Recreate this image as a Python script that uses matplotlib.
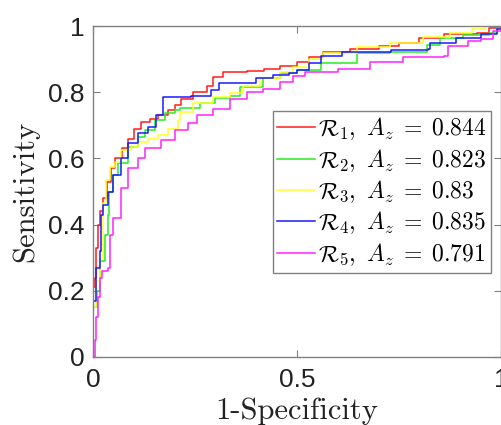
import matplotlib
matplotlib.use("Agg")
import matplotlib.pyplot as plt

plt.rcParams['mathtext.fontset'] = 'cm'
plt.rcParams['font.family'] = ['Liberation Sans', 'DejaVu Sans']

# ROC points (1-specificity, sensitivity)
r1_x = [0, 0, 0.004, 0.008, 0.012, 0.018, 0.025, 0.035, 0.045, 0.055, 0.07, 0.085, 0.1, 0.118, 0.14,
        0.159, 0.184, 0.2, 0.216, 0.245, 0.279, 0.294, 0.319, 0.377, 0.42, 0.458, 0.5, 0.53, 0.564,
        0.63, 0.7, 0.75, 0.8, 0.86, 0.94, 0.97, 1]
r1_y = [0, 0.21, 0.24, 0.33, 0.4, 0.44, 0.48, 0.53, 0.57, 0.6, 0.63, 0.66, 0.69, 0.71, 0.72,
        0.73, 0.745, 0.76, 0.78, 0.8, 0.82, 0.845, 0.86, 0.865, 0.87, 0.88, 0.89, 0.905, 0.92,
        0.93, 0.94, 0.95, 0.965, 0.975, 0.98, 0.995, 1]

r2_x = [0, 0, 0.01, 0.017, 0.03, 0.037, 0.04, 0.05, 0.061, 0.086, 0.11, 0.128, 0.152, 0.176, 0.201,
        0.213, 0.262, 0.3, 0.336, 0.36, 0.417, 0.458, 0.5, 0.56, 0.647, 0.728, 0.818, 0.85, 0.907,
        0.97, 0.99, 1]
r2_y = [0, 0.15, 0.2, 0.29, 0.37, 0.43, 0.5, 0.55, 0.585, 0.634, 0.665, 0.686, 0.716, 0.737, 0.746,
        0.752, 0.767, 0.782, 0.79, 0.816, 0.843, 0.858, 0.867, 0.888, 0.918, 0.921, 0.943, 0.964, 0.973,
        0.98, 0.995, 1]

r3_x = [0, 0, 0.007, 0.017, 0.025, 0.032, 0.042, 0.054, 0.069, 0.093, 0.11, 0.135, 0.159, 0.184,
        0.208, 0.213, 0.245, 0.294, 0.336, 0.368, 0.409, 0.458, 0.49, 0.53, 0.564, 0.647, 0.728,
        0.81, 0.875, 0.93, 0.96, 1]
r3_y = [0, 0.15, 0.23, 0.3, 0.465, 0.535, 0.574, 0.59, 0.625, 0.634, 0.65, 0.66, 0.67, 0.69,
        0.716, 0.74, 0.767, 0.785, 0.797, 0.82, 0.843, 0.861, 0.876, 0.9, 0.918, 0.937, 0.949,
        0.967, 0.979, 0.99, 1.0, 1]

r4_x = [0, 0, 0.007, 0.007, 0.017, 0.02, 0.025, 0.037, 0.05, 0.069, 0.086, 0.11, 0.135, 0.155,
        0.172, 0.172, 0.24, 0.29, 0.31, 0.4, 0.44, 0.48, 0.5, 0.53, 0.56, 0.61, 0.73, 0.82, 0.825,
        0.89, 0.95, 0.99, 1]
r4_y = [0, 0.17, 0.17, 0.27, 0.32, 0.43, 0.46, 0.5, 0.55, 0.6, 0.646, 0.677, 0.695, 0.73,
        0.76, 0.785, 0.79, 0.807, 0.828, 0.843, 0.852, 0.858, 0.867, 0.888, 0.91, 0.92, 0.927, 0.93, 0.95,
        0.965, 0.975, 0.99, 1]

r5_x = [0, 0.004, 0.008, 0.012, 0.016, 0.022, 0.037, 0.042, 0.049, 0.069, 0.086, 0.11, 0.127, 0.167,
        0.201, 0.233, 0.255, 0.294, 0.336, 0.377, 0.417, 0.458, 0.49, 0.52, 0.6, 0.68, 0.76, 0.86,
        0.87, 0.92, 0.95, 0.98, 1]
r5_y = [0, 0.05, 0.12, 0.18, 0.24, 0.26, 0.27, 0.37, 0.42, 0.51, 0.57, 0.6, 0.63, 0.655,
        0.686, 0.707, 0.73, 0.75, 0.78, 0.8, 0.81, 0.83, 0.85, 0.86, 0.87, 0.89, 0.905, 0.91,
        0.94, 0.955, 0.96, 0.985, 1]

labels = [r'$\mathcal{R}_1,\ A_z\;=\;0.844$', r'$\mathcal{R}_2,\ A_z\;=\;0.823$',
          r'$\mathcal{R}_3,\ A_z\;=\;0.83$', r'$\mathcal{R}_4,\ A_z\;=\;0.835$',
          r'$\mathcal{R}_5,\ A_z\;=\;0.791$']
colors = ['#ff1a1a', '#22ee22', '#ffff22', '#1a1aff', '#ff22ff']

fig = plt.figure(figsize=(5.01, 4.25), dpi=100)
ax = fig.add_axes([93 / 501, 68 / 425, 408 / 501, 331 / 425])

curves = [(r1_x, r1_y), (r2_x, r2_y), (r3_x, r3_y), (r4_x, r4_y), (r5_x, r5_y)]
for (xs, ys), c, lab in zip(curves, colors, labels):
    ax.plot(xs, ys, drawstyle='steps-post', color=c, lw=1.1, label=lab)

ax.set_xlim(0, 1)
ax.set_ylim(0, 1)
ax.set_xticks([0, 0.5, 1])
ax.set_xticklabels(['0', '0.5', '1'])
ax.set_yticks([0, 0.2, 0.4, 0.6, 0.8, 1])
ax.set_yticklabels(['0', '0.2', '0.4', '0.6', '0.8', '1'])
ax.tick_params(direction='in', top=True, right=True, length=5, color='#808080',
               labelsize=19, labelcolor='#222222')
ax.tick_params(axis='x', pad=8)
ax.tick_params(axis='y', pad=6)
for s in ax.spines.values():
    s.set_color('#808080')
    s.set_linewidth(1.0)

ax.set_xlabel('1-Specificity', fontfamily='cmr10', fontsize=22, labelpad=4, color='#222222')
ax.set_ylabel('Sensitivity', fontfamily='cmr10', fontsize=22, labelpad=6, color='#222222')

leg = ax.legend(loc='upper right', bbox_to_anchor=(0.975, 0.743), borderaxespad=0,
                fontsize=17, handlelength=1.6, handletextpad=0.1, labelspacing=0.2,
                borderpad=0.2, fancybox=False, framealpha=1)
leg.get_frame().set_edgecolor('#808080')
leg.get_frame().set_linewidth(1.0)

fig.savefig('out.png', dpi=100)
